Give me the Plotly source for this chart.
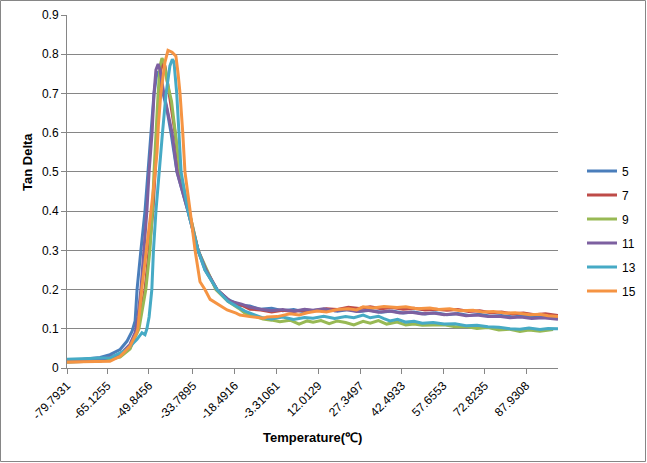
import plotly.graph_objects as go

# ---- data (temperature in ℃, tan delta) ----
t5 = [-79.8, -75.0, -70.3, -67.7, -64.1, -60.4, -57.9, -56.0, -54.9, -54.2, -52.8, -51.3, -50.2, -49.1, -48.0, -46.9, -46.2, -44.7, -43.3, -41.8, -39.6, -35.6, -31.9, -29.4, -25.0, -21.0,
      -16.6, -13.0, -9.3, -5.0, -1.0, 3.0, 7.0, 11.0, 15.0, 19.0, 23.0, 27.0, 31.0, 35.0, 39.0, 43.0, 47.0, 51.0, 55.0, 59.0, 63.0, 67.0, 71.0, 75.0, 79.0, 83.0, 87.0, 91.0, 95.0, 99.6]
v5 = [0.020, 0.021, 0.025, 0.027, 0.034, 0.047, 0.068, 0.094, 0.12, 0.2, 0.3, 0.4, 0.5, 0.6, 0.7, 0.755, 0.75, 0.7, 0.66, 0.6, 0.5, 0.4, 0.3, 0.25, 0.2, 0.175,
      0.16, 0.158, 0.15, 0.152, 0.146, 0.149, 0.143, 0.147, 0.15, 0.145, 0.149, 0.144, 0.147, 0.142, 0.145, 0.14, 0.143, 0.138, 0.141, 0.136, 0.139, 0.134, 0.137, 0.132, 0.134, 0.13, 0.133, 0.129, 0.132, 0.13]

t7 = [-79.8, -67.7, -60.4, -56.8, -53.9, -51.3, -49.8, -48.4, -47.6, -46.9, -46.2, -45.5, -44.7, -44.0, -42.9, -41.4, -40.3, -38.9, -35.2, -31.9, -29.0, -25.0, -20.2,
      -16.0, -12.9, -9.0, -5.0, -1.0, 3.0, 7.0, 11.0, 15.0, 19.0, 23.0, 27.0, 31.0, 35.0, 39.0, 43.0, 47.0, 51.0, 55.0, 59.0, 63.0, 67.0, 71.0, 75.0, 79.0, 83.0, 87.0, 91.0, 95.0, 99.6]
v7 = [0.015, 0.018, 0.03, 0.05, 0.1, 0.2, 0.3, 0.4, 0.5, 0.6, 0.7, 0.76, 0.78, 0.77, 0.72, 0.65, 0.6, 0.5, 0.4, 0.3, 0.25, 0.2, 0.17,
      0.16, 0.15, 0.148, 0.143, 0.147, 0.144, 0.148, 0.146, 0.151, 0.149, 0.155, 0.152, 0.156, 0.151, 0.154, 0.15, 0.152, 0.148, 0.15, 0.147, 0.149, 0.144, 0.146, 0.141, 0.143, 0.138, 0.14, 0.136, 0.138, 0.134]

t9 = [-79.8, -67.7, -60.4, -56.8, -53.5, -51.0, -49.5, -48.6, -48.0, -47.3, -46.5, -45.8, -45.1, -44.4, -42.9, -41.6, -40.3, -38.5, -35.2, -31.9, -25.4, -21.0,
      -17.0, -14.8, -11.0, -8.2, -5.0, -2.0, 1.7, 5.0, 8.0, 10.1, 13.0, 16.0, 19.0, 22.0, 25.0, 28.4, 31.0, 34.0, 37.0, 40.8, 44.0, 47.0, 50.0, 54.0, 58.0, 62.0, 66.0, 70.0, 74.0, 78.0, 82.0, 85.7, 89.0, 93.0, 97.8]
v9 = [0.015, 0.018, 0.028, 0.048, 0.1, 0.2, 0.3, 0.4, 0.5, 0.6, 0.7, 0.77, 0.79, 0.78, 0.72, 0.68, 0.6, 0.5, 0.4, 0.3, 0.2, 0.17,
      0.152, 0.14, 0.132, 0.125, 0.122, 0.118, 0.122, 0.112, 0.12, 0.117, 0.121, 0.113, 0.12, 0.116, 0.11, 0.119, 0.114, 0.121, 0.112, 0.117, 0.11, 0.112, 0.109, 0.109, 0.11, 0.105, 0.106, 0.101, 0.103, 0.097, 0.099, 0.093, 0.097, 0.094, 0.098]

t11 = [-79.8, -67.7, -60.4, -56.8, -54.9, -53.9, -52.8, -51.7, -50.6, -49.8, -48.7, -48.0, -47.3, -46.5, -45.8, -44.4, -42.9, -41.4, -39.6, -35.6, -31.9, -29.0, -25.0, -20.2,
       -16.0, -12.9, -9.0, -5.0, -1.0, 3.0, 7.0, 10.1, 14.0, 18.0, 22.0, 26.0, 30.0, 34.0, 38.0, 41.9, 46.0, 50.0, 54.0, 58.0, 62.0, 66.0, 70.0, 74.0, 78.0, 82.0, 86.0, 90.0, 94.0, 99.6]
v11 = [0.018, 0.021, 0.035, 0.06, 0.09, 0.13, 0.2, 0.3, 0.4, 0.5, 0.6, 0.7, 0.76, 0.775, 0.76, 0.7, 0.65, 0.6, 0.5, 0.4, 0.3, 0.25, 0.2, 0.17,
       0.163, 0.155, 0.15, 0.146, 0.149, 0.145, 0.15, 0.147, 0.151, 0.146, 0.149, 0.144, 0.147, 0.142, 0.145, 0.14, 0.142, 0.138, 0.14, 0.136, 0.138, 0.133, 0.135, 0.131, 0.132, 0.128, 0.13, 0.126, 0.128, 0.124]

t13 = [-79.8, -64.1, -57.9, -54.2, -52.4, -51.3, -50.6, -49.8, -48.8, -48.2, -47.3, -46.2, -44.9, -43.6, -42.2, -41.3, -40.7, -39.7, -39.0, -38.1, -35.6, -31.9, -29.4, -25.0, -21.0,
       -17.0, -14.8, -11.0, -8.2, -5.0, -1.0, 3.0, 7.0, 10.1, 14.0, 18.0, 22.0, 25.0, 28.4, 31.0, 34.0, 36.0, 38.2, 41.0, 44.0, 47.0, 50.0, 54.0, 58.0, 62.0, 66.0, 70.0, 74.0, 78.0, 82.0, 85.7, 89.0, 93.0, 96.0, 99.6]
v13 = [0.022, 0.026, 0.047, 0.073, 0.09, 0.085, 0.1, 0.13, 0.2, 0.3, 0.4, 0.5, 0.6, 0.7, 0.77, 0.787, 0.78, 0.7, 0.6, 0.5, 0.4, 0.3, 0.25, 0.2, 0.17,
       0.155, 0.145, 0.135, 0.128, 0.125, 0.13, 0.124, 0.129, 0.127, 0.132, 0.126, 0.131, 0.128, 0.135, 0.128, 0.132, 0.126, 0.12, 0.124, 0.117, 0.119, 0.114, 0.116, 0.112, 0.113, 0.108, 0.109, 0.105, 0.104, 0.1, 0.099, 0.102, 0.098, 0.101, 0.1]

t15 = [-79.8, -64.1, -60.4, -56.8, -54.3, -53.9, -52.5, -50.7, -49.1, -48.0, -46.9, -46.4, -45.5, -44.0, -42.9, -41.4, -40.0, -39.2, -38.5, -37.5, -36.7, -34.8, -33.0, -31.2, -29.4, -27.5, -21.3,
       -18.0, -16.6, -13.0, -11.1, -8.0, -6.7, -3.0, 1.7, 5.0, 8.0, 11.6, 15.0, 19.0, 23.0, 26.0, 28.4, 32.0, 36.0, 40.8, 44.0, 48.0, 52.8, 56.0, 60.0, 64.0, 68.6, 72.0, 76.0, 80.0, 84.0, 89.4, 93.0, 96.0, 99.6]
v15 = [0.015, 0.017, 0.03, 0.055, 0.09, 0.1, 0.2, 0.3, 0.4, 0.47, 0.55, 0.62, 0.7, 0.78, 0.81, 0.805, 0.795, 0.75, 0.7, 0.6, 0.5, 0.4, 0.3, 0.22, 0.2, 0.175, 0.148,
       0.14, 0.135, 0.131, 0.13, 0.127, 0.13, 0.131, 0.138, 0.135, 0.141, 0.145, 0.143, 0.149, 0.151, 0.148, 0.156, 0.153, 0.157, 0.154, 0.156, 0.151, 0.153, 0.149, 0.151, 0.146, 0.147, 0.143, 0.144, 0.14, 0.141, 0.136, 0.137, 0.133, 0.131]

series_names = ["5", "7", "9", "11", "13", "15"]
series_t = [t5, t7, t9, t11, t13, t15]
series_v = [v5, v7, v9, v11, v13, v15]
colors = ["#4A7EBB", "#BE4B48", "#98B954", "#7D60A0", "#46AAC5", "#F59443"]

tick_vals = [-79.7931, -65.1255, -49.8456, -33.7895, -18.4916, -3.31061, 12.0129, 27.3497, 42.4933, 57.6553, 72.8235, 87.9308]
tick_text = ["-79.7931", "-65.1255", "-49.8456", "-33.7895", "-18.4916", "-3.31061", "12.0129", "27.3497", "42.4933", "57.6553", "72.8235", "87.9308"]

FONT = "Liberation Sans"
GREY = "#868686"

fig = go.Figure()
for name, t, v, c in zip(series_names, series_t, series_v, colors):
    fig.add_trace(go.Scatter(x=t, y=v, mode="lines", name=name, legendgroup=name,
                             line=dict(color=c, width=3)))

W, H = 647, 463
L, R, T, B = 67, 89, 15, 95
pw, ph = W - L - R, H - T - B


def px_x(p):
    return (p - L) / pw


def px_y(p):
    return (T + ph - p) / ph


fig.update_layout(
    width=W, height=H,
    margin=dict(l=L, r=R, t=T, b=B, autoexpand=False),
    paper_bgcolor="white", plot_bgcolor="white",
    font=dict(family=FONT, size=12, color="black"),
    showlegend=True,
    legend=dict(x=px_x(582), xanchor="left", y=px_y(231), yanchor="middle",
                traceorder="grouped", tracegroupgap=5, font=dict(size=12),
                bgcolor="rgba(0,0,0,0)"),
    xaxis=dict(range=[-79.7931, 99.6], tickvals=tick_vals, ticktext=tick_text, tickangle=-45,
               showgrid=False, zeroline=False, showline=True, linecolor=GREY, linewidth=1,
               ticks="outside", ticklen=5, tickcolor=GREY, automargin=False),
    yaxis=dict(range=[0, 0.9], dtick=0.1, showgrid=True, gridcolor=GREY, gridwidth=1,
               zeroline=False, showline=True, linecolor=GREY, linewidth=1,
               ticks="outside", ticklen=5, tickcolor=GREY, automargin=False),
    annotations=[
        dict(text="<b>Temperature(℃)</b>", xref="paper", yref="paper", x=px_x(312), y=px_y(437),
             xanchor="center", yanchor="middle", showarrow=False, font=dict(size=13)),
        dict(text="<b>Tan Delta</b>", xref="paper", yref="paper", x=px_x(27), y=px_y(162),
             xanchor="center", yanchor="middle", textangle=-90, showarrow=False, font=dict(size=13)),
    ],
    shapes=[dict(type="rect", xref="paper", yref="paper",
                 x0=px_x(0.5), x1=px_x(645.5), y0=px_y(461.5), y1=px_y(0.5),
                 line=dict(color=GREY, width=1), fillcolor="rgba(0,0,0,0)", layer="below")],
)

fig.write_html("out.html", config={"displayModeBar": False},
               post_script="document.body.style.margin='0';document.body.style.overflow='hidden';")
